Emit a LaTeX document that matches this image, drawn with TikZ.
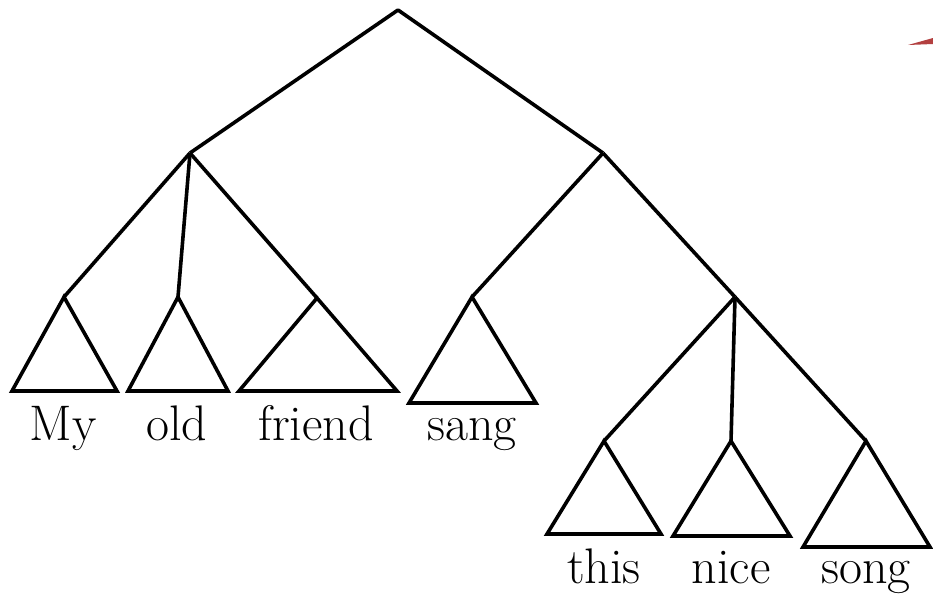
\documentclass[tikz,border=0pt]{standalone}
\usepackage{tikz}
\usetikzlibrary{positioning}
\tikzset{
  treeedge/.style={draw=black, line width=3.6pt, line join=round},
  subtree/.style={draw=black, line width=3.6pt, line join=miter},
  wordlabel/.style={anchor=base, inner sep=0pt, font=\fontsize{50}{56}\selectfont},
  stray/.style={fill=red!60!black, fill opacity=0.75, draw=none},
}
\begin{document}
\begin{tikzpicture}[x=1pt,y=-1pt]
  \useasboundingbox (0,0) rectangle (933,598);

  % --- Inner nodes ---
  \coordinate (root) at (398,10);
  \coordinate (np) at (190,153);
  \coordinate (vp) at (603,153);
  \coordinate (obj) at (735,297);

  % --- Subtree apexes ---
  \coordinate (tMy) at (64,297);
  \coordinate (tOld) at (178,297);
  \coordinate (tFriend) at (317,298);
  \coordinate (tSang) at (472,297);
  \coordinate (tThis) at (604,441);
  \coordinate (tNice) at (731,441);
  \coordinate (tSong) at (866,441);

  % --- Branches ---
  \draw[treeedge] (np) -- (root) -- (vp);
  \draw[treeedge] (np) -- (tMy);
  \draw[treeedge] (np) -- (tOld);
  \draw[treeedge] (np) -- (tFriend);
  \draw[treeedge] (vp) -- (tSang);
  \draw[treeedge] (vp) -- (obj);
  \draw[treeedge] (obj) -- (tThis);
  \draw[treeedge] (obj) -- (tNice);
  \draw[treeedge] (obj) -- (tSong);

  % --- Triangles ---
  \draw[subtree] (tMy) -- ++(-52,94) -- ++(105,0) -- cycle;
  \draw[subtree] (tOld) -- ++(-50,94) -- ++(100,0) -- cycle;
  \draw[subtree] (tFriend) -- ++(-78,93) -- ++(158,0) -- cycle;
  \draw[subtree] (tSang) -- ++(-63,106) -- ++(127,0) -- cycle;
  \draw[subtree] (tThis) -- ++(-57,93) -- ++(114,0) -- cycle;
  \draw[subtree] (tNice) -- ++(-58,95) -- ++(117,0) -- cycle;
  \draw[subtree] (tSong) -- ++(-63,106) -- ++(127,0) -- cycle;

  % --- Words ---
  \node[wordlabel] (wMy) at (63,440) {My};
  \node[wordlabel] (wOld) at (177,440) {old};
  \node[wordlabel] (wFriend) at (316,440) {friend};
  \node[wordlabel] (wSang) at (472,440) {sang};
  \node[wordlabel] (wThis) at (604,583) {this};
  \node[wordlabel] (wNice) at (731,583) {nice};
  \node[wordlabel] (wSong) at (866,583) {song};

  % stray mark, top right
  \fill[stray] (908,45) -- (933,38) -- (933,44) -- cycle;
\end{tikzpicture}
\end{document}
